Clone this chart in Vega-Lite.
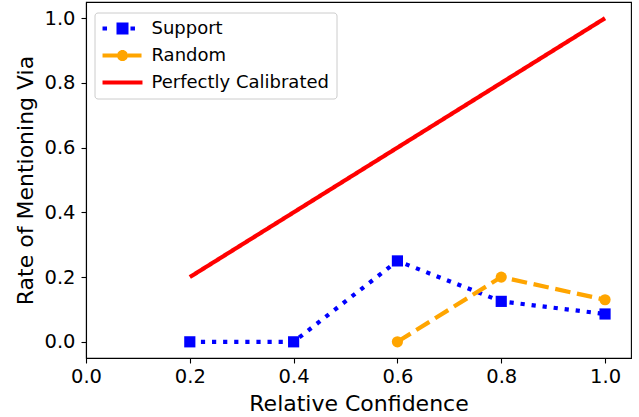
{
  "$schema": "https://vega.github.io/schema/vega-lite/v6.json",
  "autosize": "none",
  "width": 545,
  "height": 356,
  "padding": {"left": 86, "top": 2, "right": 8, "bottom": 59},
  "background": "white",
  "config": {
    "font": "DejaVu Sans",
    "view": {"stroke": "black", "strokeWidth": 1.1},
    "axis": {
      "grid": false,
      "domainColor": "black",
      "domainWidth": 1.1,
      "tickColor": "black",
      "tickWidth": 1.1,
      "tickSize": 5,
      "labelFont": "DejaVu Sans",
      "labelFontSize": 19.5,
      "labelColor": "black",
      "titleFont": "DejaVu Sans",
      "titleFontSize": 22,
      "titleFontWeight": "normal",
      "titleColor": "black"
    }
  },
  "data": {
    "values": [
      {"series": "Support", "x": 0.2, "y": 0},
      {"series": "Support", "x": 0.4, "y": 0},
      {"series": "Support", "x": 0.6, "y": 0.25},
      {"series": "Support", "x": 0.8, "y": 0.125},
      {"series": "Support", "x": 1.0, "y": 0.086},
      {"series": "Random", "x": 0.6, "y": 0},
      {"series": "Random", "x": 0.8, "y": 0.2},
      {"series": "Random", "x": 1.0, "y": 0.13},
      {"series": "Perfectly Calibrated", "x": 0.2, "y": 0.2},
      {"series": "Perfectly Calibrated", "x": 1.0, "y": 1.0}
    ]
  },
  "encoding": {
    "x": {
      "field": "x",
      "type": "quantitative",
      "title": "Relative Confidence",
      "scale": {"domain": [0, 1.05], "nice": false, "zero": false},
      "axis": {"values": [0, 0.2, 0.4, 0.6, 0.8, 1.0], "format": ".1f", "labelPadding": 4, "titlePadding": 8, "labelFlush": false}
    },
    "y": {
      "field": "y",
      "type": "quantitative",
      "title": "Rate of Mentioning Via",
      "scale": {"domain": [-0.05, 1.05], "nice": false, "zero": false},
      "axis": {"values": [0, 0.2, 0.4, 0.6, 0.8, 1.0], "format": ".1f", "labelPadding": 6, "titlePadding": 6, "labelFlush": false}
    },
    "color": {
      "field": "series",
      "type": "nominal",
      "scale": {
        "domain": ["Support", "Random", "Perfectly Calibrated"],
        "range": ["#0000ff", "#ffa500", "#ff0000"]
      },
      "legend": {
        "title": null,
        "orient": "none",
        "legendX": 8.5,
        "legendY": 10.5,
        "padding": 7,
        "fillColor": "white",
        "strokeColor": "#cccccc",
        "cornerRadius": 3,
        "labelFont": "DejaVu Sans",
        "labelFontSize": 18,
        "labelColor": "black",
        "labelLimit": 400,
        "symbolSize": 144,
        "symbolOffset": 12,
        "labelOffset": 20,
        "rowPadding": 9,
        "symbolStrokeWidth": 0,
        "encode": {
          "symbols": {
            "update": {
              "shape": {"signal": "datum.value === 'Support' ? 'M-3.33,-0.35H-2.58V0.35H-3.33Z M-1,-1H1V1H-1Z M1.33,-0.35H2.08V0.35H1.33Z' : datum.value === 'Random' ? 'M-3.33,-0.35H-0.9V0.35H-3.33Z M0.93,0A0.93,0.93 0 1,1 -0.93,0A0.93,0.93 0 1,1 0.93,0Z M0.9,-0.35H3.17V0.35H0.9Z' : 'M-3.33,-0.35H3.33V0.35H-3.33Z'"},
              "fill": {"scale": "color", "field": "value"},
              "stroke": {"value": "transparent"},
              "strokeWidth": {"value": 0},
              "opacity": {"value": 1},
              "size": {"value": 144}
            }
          }
        }
      }
    }
  },
  "layer": [
    {
      "mark": {"type": "line", "strokeWidth": 4.2, "strokeCap": "butt", "clip": true},
      "encoding": {
        "strokeDash": {
          "field": "series",
          "type": "nominal",
          "scale": {
            "domain": ["Support", "Random", "Perfectly Calibrated"],
            "range": [[4.2, 6.9], [15.5, 6.7], [1, 0]]
          },
          "legend": null
        }
      }
    },
    {
      "transform": [{"filter": "datum.series !== 'Perfectly Calibrated'"}],
      "mark": {"type": "point", "filled": true, "opacity": 1, "size": 125, "strokeWidth": 0},
      "encoding": {
        "shape": {
          "field": "series",
          "type": "nominal",
          "scale": {"domain": ["Support", "Random"], "range": ["square", "circle"]},
          "legend": null
        }
      }
    }
  ]
}
